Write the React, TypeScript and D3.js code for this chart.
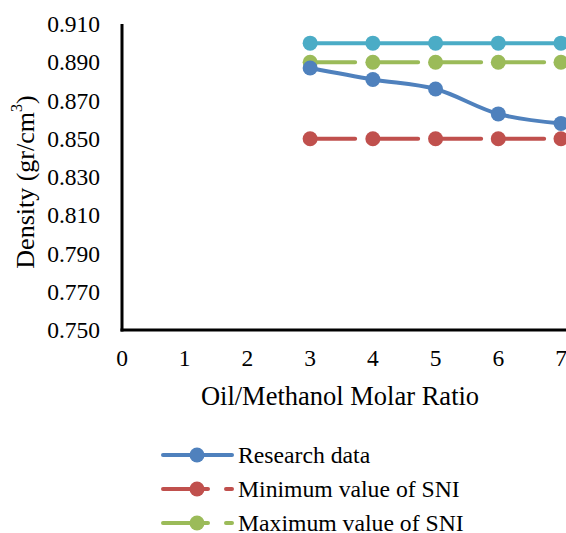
import * as React from 'react';
import * as d3 from 'd3';

const ratios = [3, 4, 5, 6, 7];
const researchData = [0.887, 0.881, 0.876, 0.863, 0.858];
const minSNI = [0.85, 0.85, 0.85, 0.85, 0.85];
const maxSNI = [0.89, 0.89, 0.89, 0.89, 0.89];
const upperRef = [0.9, 0.9, 0.9, 0.9, 0.9];

const xTicks = [0, 1, 2, 3, 4, 5, 6, 7];
const yTicks = [0.75, 0.77, 0.79, 0.81, 0.83, 0.85, 0.87, 0.89, 0.91];

const width = 566;
const height = 533;
const font = 'Liberation Serif, Times New Roman, serif';

interface Series {
    name: string | null;
    values: number[];
    color: string;
    dash: string | null;
    smooth: boolean;
}

const series: Series[] = [
    {name: null, values: upperRef, color: '#4BACC6', dash: null, smooth: false},
    {name: 'Maximum value of SNI', values: maxSNI, color: '#9BBB59', dash: '45 18', smooth: false},
    {name: 'Minimum value of SNI', values: minSNI, color: '#C0504D', dash: '45 18', smooth: false},
    {name: 'Research data', values: researchData, color: '#4F81BD', dash: null, smooth: true},
];

const legendOrder = ['Research data', 'Minimum value of SNI', 'Maximum value of SNI'];

export default function App() {
    const x = d3.scaleLinear().domain([0, 7]).range([122, 561]);
    const y = d3.scaleLinear().domain([0.75, 0.91]).range([330, 24]);

    const lineFor = (s: Series) => d3.line<number>()
        .x((_, i) => x(ratios[i]))
        .y((d) => y(d))
        .curve(s.smooth ? d3.curveCatmullRom.alpha(0.5) : d3.curveLinear);

    const legendRow = d3.scaleBand<string>().domain(legendOrder).range([438, 540]);

    return (
        <svg width={width} height={height} style={{position: 'absolute', left: 0, top: 0, fontFamily: font}}>
            <rect width={width} height={height} fill='white' />
            {series.map((s) => (
                <g key={s.color}>
                    <path d={lineFor(s)(s.values) || ''} fill='none' stroke={s.color} strokeWidth={4}
                        strokeLinecap='round' strokeDasharray={s.dash || undefined} />
                    {s.values.map((v, i) => (
                        <circle key={i} cx={x(ratios[i])} cy={y(v)} r={7.5} fill={s.color} />
                    ))}
                </g>
            ))}
            <g className='y-axis'>
                <line stroke='black' strokeWidth={3} x1={x(0)} x2={x(0)} y1={y(0.91)} y2={y(0.75) + 1.5} />
                {yTicks.map((t) => (
                    <text key={t} x={100} y={y(t)} textAnchor='end' dominantBaseline='central' fontSize={23.5}>
                        {t.toFixed(3)}
                    </text>
                ))}
            </g>
            <g className='x-axis'>
                <line stroke='black' strokeWidth={3} x1={x(0) - 1.5} x2={width} y1={y(0.75)} y2={y(0.75)} />
                {xTicks.map((t) => (
                    <text key={t} x={x(t)} y={358} textAnchor='middle' dominantBaseline='central' fontSize={23.5}>
                        {t}
                    </text>
                ))}
            </g>
            <text x={340} y={396} textAnchor='middle' dominantBaseline='central' fontSize={26.5}>
                Oil/Methanol Molar Ratio
            </text>
            <text transform='translate(25,182) rotate(-90)' textAnchor='middle' dominantBaseline='central' fontSize={26}>
                Density (gr/cm<tspan baseline-shift='super' fontSize={16}>3</tspan>)
            </text>
            <g className='legend'>
                {legendOrder.map((name) => {
                    const s = series.find((d) => d.name === name)!;
                    const cy = legendRow(name)! + legendRow.bandwidth() / 2;
                    return (
                        <g key={name}>
                            <line x1={163} x2={232} y1={cy} y2={cy} stroke={s.color} strokeWidth={4}
                                strokeLinecap='round' strokeDasharray={s.dash || undefined} />
                            <circle cx={197} cy={cy} r={7.5} fill={s.color} />
                            <text x={238} y={cy} dominantBaseline='central' fontSize={23.7}>{name}</text>
                        </g>
                    );
                })}
            </g>
        </svg>
    );
}
